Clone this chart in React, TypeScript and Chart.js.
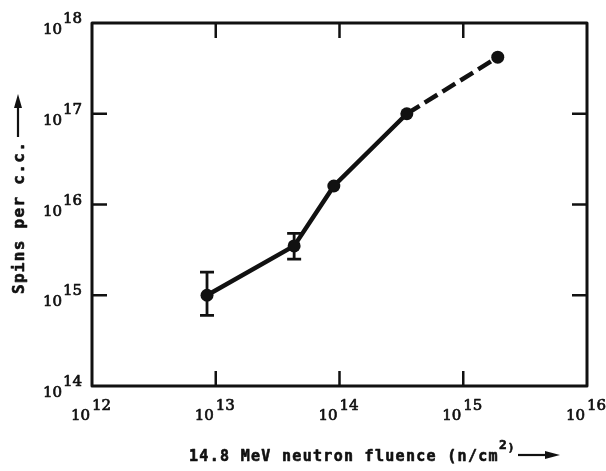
import React, { useEffect, useRef } from "react";
import { Chart, registerables } from "chart.js";

Chart.register(...registerables);

// ---- data ----
const fluence = [8.5e12, 4.3e13, 9.0e13, 3.5e14, 1.9e15];
const spins = [1.0e15, 3.5e15, 1.6e16, 1.0e17, 4.2e17];
const errLow: (number | null)[] = [6.0e14, 2.5e15, null, null, null];
const errHigh: (number | null)[] = [1.8e15, 4.8e15, null, null, null];
const xTickExponents = [12, 13, 14, 15, 16];
const yTickExponents = [14, 15, 16, 17, 18];
const xTitle = "14.8 MeV neutron fluence (n/cm";
const xTitleSup = "2";
const xTitleEnd = ")";
const yTitle = "Spins per c.c.";

const INK = "#111";

function spacedText(ctx: CanvasRenderingContext2D, text: string, x: number, y: number, spacing: number, bold = 0) {
  let cx = x;
  for (const ch of text) {
    ctx.fillText(ch, cx, y);
    if (bold > 0) ctx.strokeText(ch, cx, y);
    cx += ctx.measureText(ch).width + spacing;
  }
  return cx;
}

function boldText(ctx: CanvasRenderingContext2D, text: string, x: number, y: number, w: number) {
  ctx.fillText(text, x, y);
  ctx.lineWidth = w;
  ctx.strokeText(text, x, y);
}

const decor = {
  id: "decor",
  beforeDatasetsDraw(chart: any) {
    const ctx: CanvasRenderingContext2D = chart.ctx;
    const xs = chart.scales.x;
    const ys = chart.scales.y;
    ctx.save();
    ctx.strokeStyle = INK;
    ctx.lineWidth = 2.8;
    for (let i = 0; i < fluence.length; i++) {
      const lo = errLow[i];
      const hi = errHigh[i];
      if (lo == null || hi == null) continue;
      const px = xs.getPixelForValue(fluence[i]);
      const top = ys.getPixelForValue(hi);
      const bot = ys.getPixelForValue(lo);
      ctx.beginPath();
      ctx.moveTo(px, top);
      ctx.lineTo(px, bot);
      ctx.moveTo(px - 7, top);
      ctx.lineTo(px + 7, top);
      ctx.moveTo(px - 7, bot);
      ctx.lineTo(px + 7, bot);
      ctx.stroke();
    }
    ctx.restore();
  },
  afterDraw(chart: any) {
    const ctx: CanvasRenderingContext2D = chart.ctx;
    const ca = chart.chartArea;
    const xs = chart.scales.x;
    const ys = chart.scales.y;
    ctx.save();
    ctx.strokeStyle = INK;
    ctx.fillStyle = INK;
    ctx.lineJoin = "round";
    // frame
    ctx.lineWidth = 3;
    ctx.strokeRect(ca.left, ca.top, ca.right - ca.left, ca.bottom - ca.top);
    // inward ticks
    ctx.lineWidth = 2.5;
    const tl = 15;
    ctx.beginPath();
    for (const e of xTickExponents) {
      const px = xs.getPixelForValue(Math.pow(10, e));
      if (Math.abs(px - ca.left) < 2 || Math.abs(px - ca.right) < 2) continue;
      ctx.moveTo(px, ca.top);
      ctx.lineTo(px, ca.top + tl);
      ctx.moveTo(px, ca.bottom);
      ctx.lineTo(px, ca.bottom - tl);
    }
    for (const e of yTickExponents) {
      const py = ys.getPixelForValue(Math.pow(10, e));
      if (Math.abs(py - ca.top) < 2 || Math.abs(py - ca.bottom) < 2) continue;
      ctx.moveTo(ca.left, py);
      ctx.lineTo(ca.left + tl, py);
      ctx.moveTo(ca.right, py);
      ctx.lineTo(ca.right - tl, py);
    }
    ctx.stroke();

    // tick labels
    ctx.font = "15px 'DejaVu Serif'";
    ctx.textBaseline = "alphabetic";
    for (const e of xTickExponents) {
      const px = xs.getPixelForValue(Math.pow(10, e));
      ctx.textAlign = "right";
      boldText(ctx, "10", px - 2, ca.bottom + 34, 0.7);
      ctx.textAlign = "left";
      boldText(ctx, String(e), px, ca.bottom + 24, 0.7);
    }
    for (const e of yTickExponents) {
      const py = ys.getPixelForValue(Math.pow(10, e));
      ctx.textAlign = "right";
      boldText(ctx, "10", ca.left - 30, py + 11, 0.7);
      ctx.textAlign = "left";
      boldText(ctx, String(e), ca.left - 29, py, 0.7);
    }

    // x title
    ctx.lineWidth = 0.6;
    ctx.font = "bold 15px 'DejaVu Sans Mono'";
    ctx.textAlign = "left";
    let cx = spacedText(ctx, xTitle, 189, 461, 1.3, 1);
    ctx.font = "bold 13px 'DejaVu Sans Mono'";
    cx = spacedText(ctx, xTitleSup, cx, 449, 0, 1);
    ctx.font = "bold 11px 'DejaVu Sans Mono'";
    spacedText(ctx, xTitleEnd, cx + 1, 451, 0, 1);
    // x arrow
    ctx.lineWidth = 2.2;
    ctx.beginPath();
    ctx.moveTo(518, 455);
    ctx.lineTo(550, 455);
    ctx.stroke();
    ctx.beginPath();
    ctx.moveTo(560, 455);
    ctx.lineTo(545, 451);
    ctx.lineTo(545, 459);
    ctx.closePath();
    ctx.fill();

    // y title (rotated)
    ctx.save();
    ctx.translate(24, 294);
    ctx.rotate(-Math.PI / 2);
    ctx.font = "bold 16px 'DejaVu Sans Mono'";
    ctx.textAlign = "left";
    ctx.lineWidth = 0.6;
    spacedText(ctx, yTitle, 0, 0, 1.3, 1);
    ctx.restore();
    // y arrow
    ctx.lineWidth = 2.2;
    ctx.beginPath();
    ctx.moveTo(18, 137);
    ctx.lineTo(18, 104);
    ctx.stroke();
    ctx.beginPath();
    ctx.moveTo(18, 94);
    ctx.lineTo(14, 108);
    ctx.lineTo(22, 108);
    ctx.closePath();
    ctx.fill();

    ctx.restore();
  },
};

export default function App() {
  const ref = useRef<HTMLCanvasElement | null>(null);
  useEffect(() => {
    if (!ref.current) return;
    const chart = new Chart(ref.current, {
      type: "line",
      data: {
        datasets: [
          {
            data: fluence.map((x, i) => ({ x, y: spins[i] })),
            borderColor: INK,
            backgroundColor: INK,
            borderWidth: 4.5,
            pointRadius: 6.5,
            pointBorderWidth: 0,
            pointBackgroundColor: INK,
            tension: 0,
            fill: false,
            segment: {
              borderDash: (c: any) => (c.p0DataIndex === 3 ? [15, 6] : undefined),
            },
          } as any,
        ],
      },
      options: {
        animation: false,
        responsive: false,
        devicePixelRatio: 1,
        layout: { padding: { left: 92, top: 23, right: 19, bottom: 85 } },
        plugins: {
          legend: { display: false },
          tooltip: { enabled: false },
          title: { display: false },
        },
        scales: {
          x: { type: "logarithmic", min: 1e12, max: 1e16, display: false },
          y: { type: "logarithmic", min: 1e14, max: 1e18, display: false },
        },
      },
      plugins: [decor],
    });
    return () => chart.destroy();
  }, []);
  return (
    <div style={{ position: "fixed", left: 0, top: 0, width: 606, height: 471, background: "#fff" }}>
      <canvas ref={ref} width={606} height={471} style={{ width: 606, height: 471 }} />
    </div>
  );
}
